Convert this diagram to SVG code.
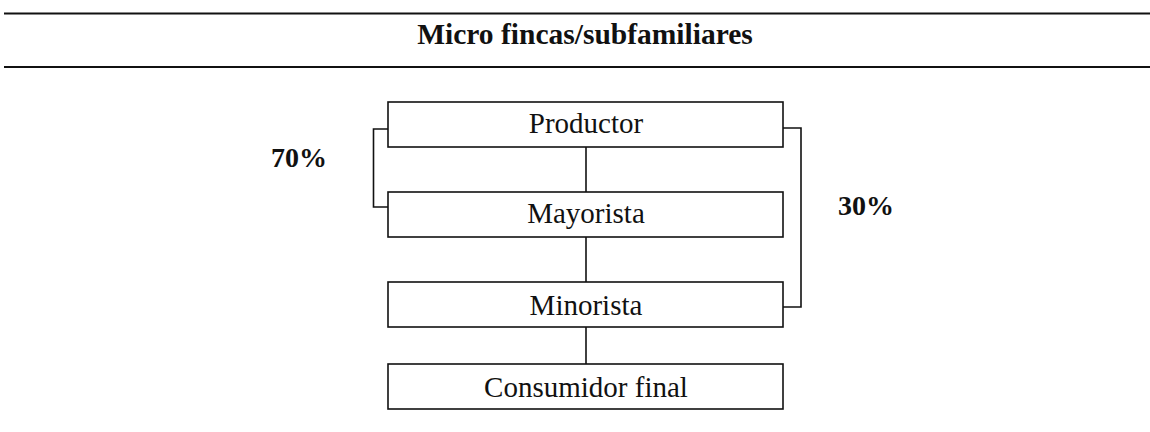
<svg xmlns="http://www.w3.org/2000/svg" width="1150" height="432" viewBox="0 0 1150 432">
<style>
.rule{stroke:#111;stroke-width:2;fill:none}
.box{fill:#fff;stroke:#111;stroke-width:1.6}
.lbl{font-family:"Liberation Serif","Times New Roman",serif;font-size:29px;fill:#111;text-anchor:middle}
.bold{font-family:"Liberation Serif","Times New Roman",serif;font-size:28px;font-weight:bold;fill:#111}
.title{font-size:29.5px}
.conn{stroke:#111;stroke-width:1.6;fill:none}
</style>
<rect width="1150" height="432" fill="#fff"/>
<g id="header">
<line class="rule" x1="4" y1="13.5" x2="1150" y2="13.5"/>
<text class="bold title" x="585" y="44" text-anchor="middle">Micro fincas/subfamiliares</text>
<line class="rule" x1="4" y1="67" x2="1150" y2="67"/>
</g>
<g id="connectors">
<line class="conn" x1="586" y1="147" x2="586" y2="192"/>
<line class="conn" x1="586" y1="237" x2="586" y2="282"/>
<line class="conn" x1="586" y1="327" x2="586" y2="364"/>
<polyline class="conn" points="388,129 373.5,129 373.5,207 388,207"/>
<polyline class="conn" points="783,128 801,128 801,307 783,307"/>
</g>
<g id="productor">
<rect class="box" x="388" y="102" width="395" height="45"/>
<text class="lbl" x="586" y="133">Productor</text>
</g>
<g id="mayorista">
<rect class="box" x="388" y="192" width="395" height="45"/>
<text class="lbl" x="586" y="223">Mayorista</text>
</g>
<g id="minorista">
<rect class="box" x="388" y="282" width="395" height="45"/>
<text class="lbl" x="586" y="315">Minorista</text>
</g>
<g id="consumidor">
<rect class="box" x="388" y="364" width="395" height="45"/>
<text class="lbl" x="586" y="397">Consumidor final</text>
</g>
<g id="label70">
<text class="bold" x="271" y="167">70%</text>
</g>
<g id="label30">
<text class="bold" x="838" y="215">30%</text>
</g>
</svg>
